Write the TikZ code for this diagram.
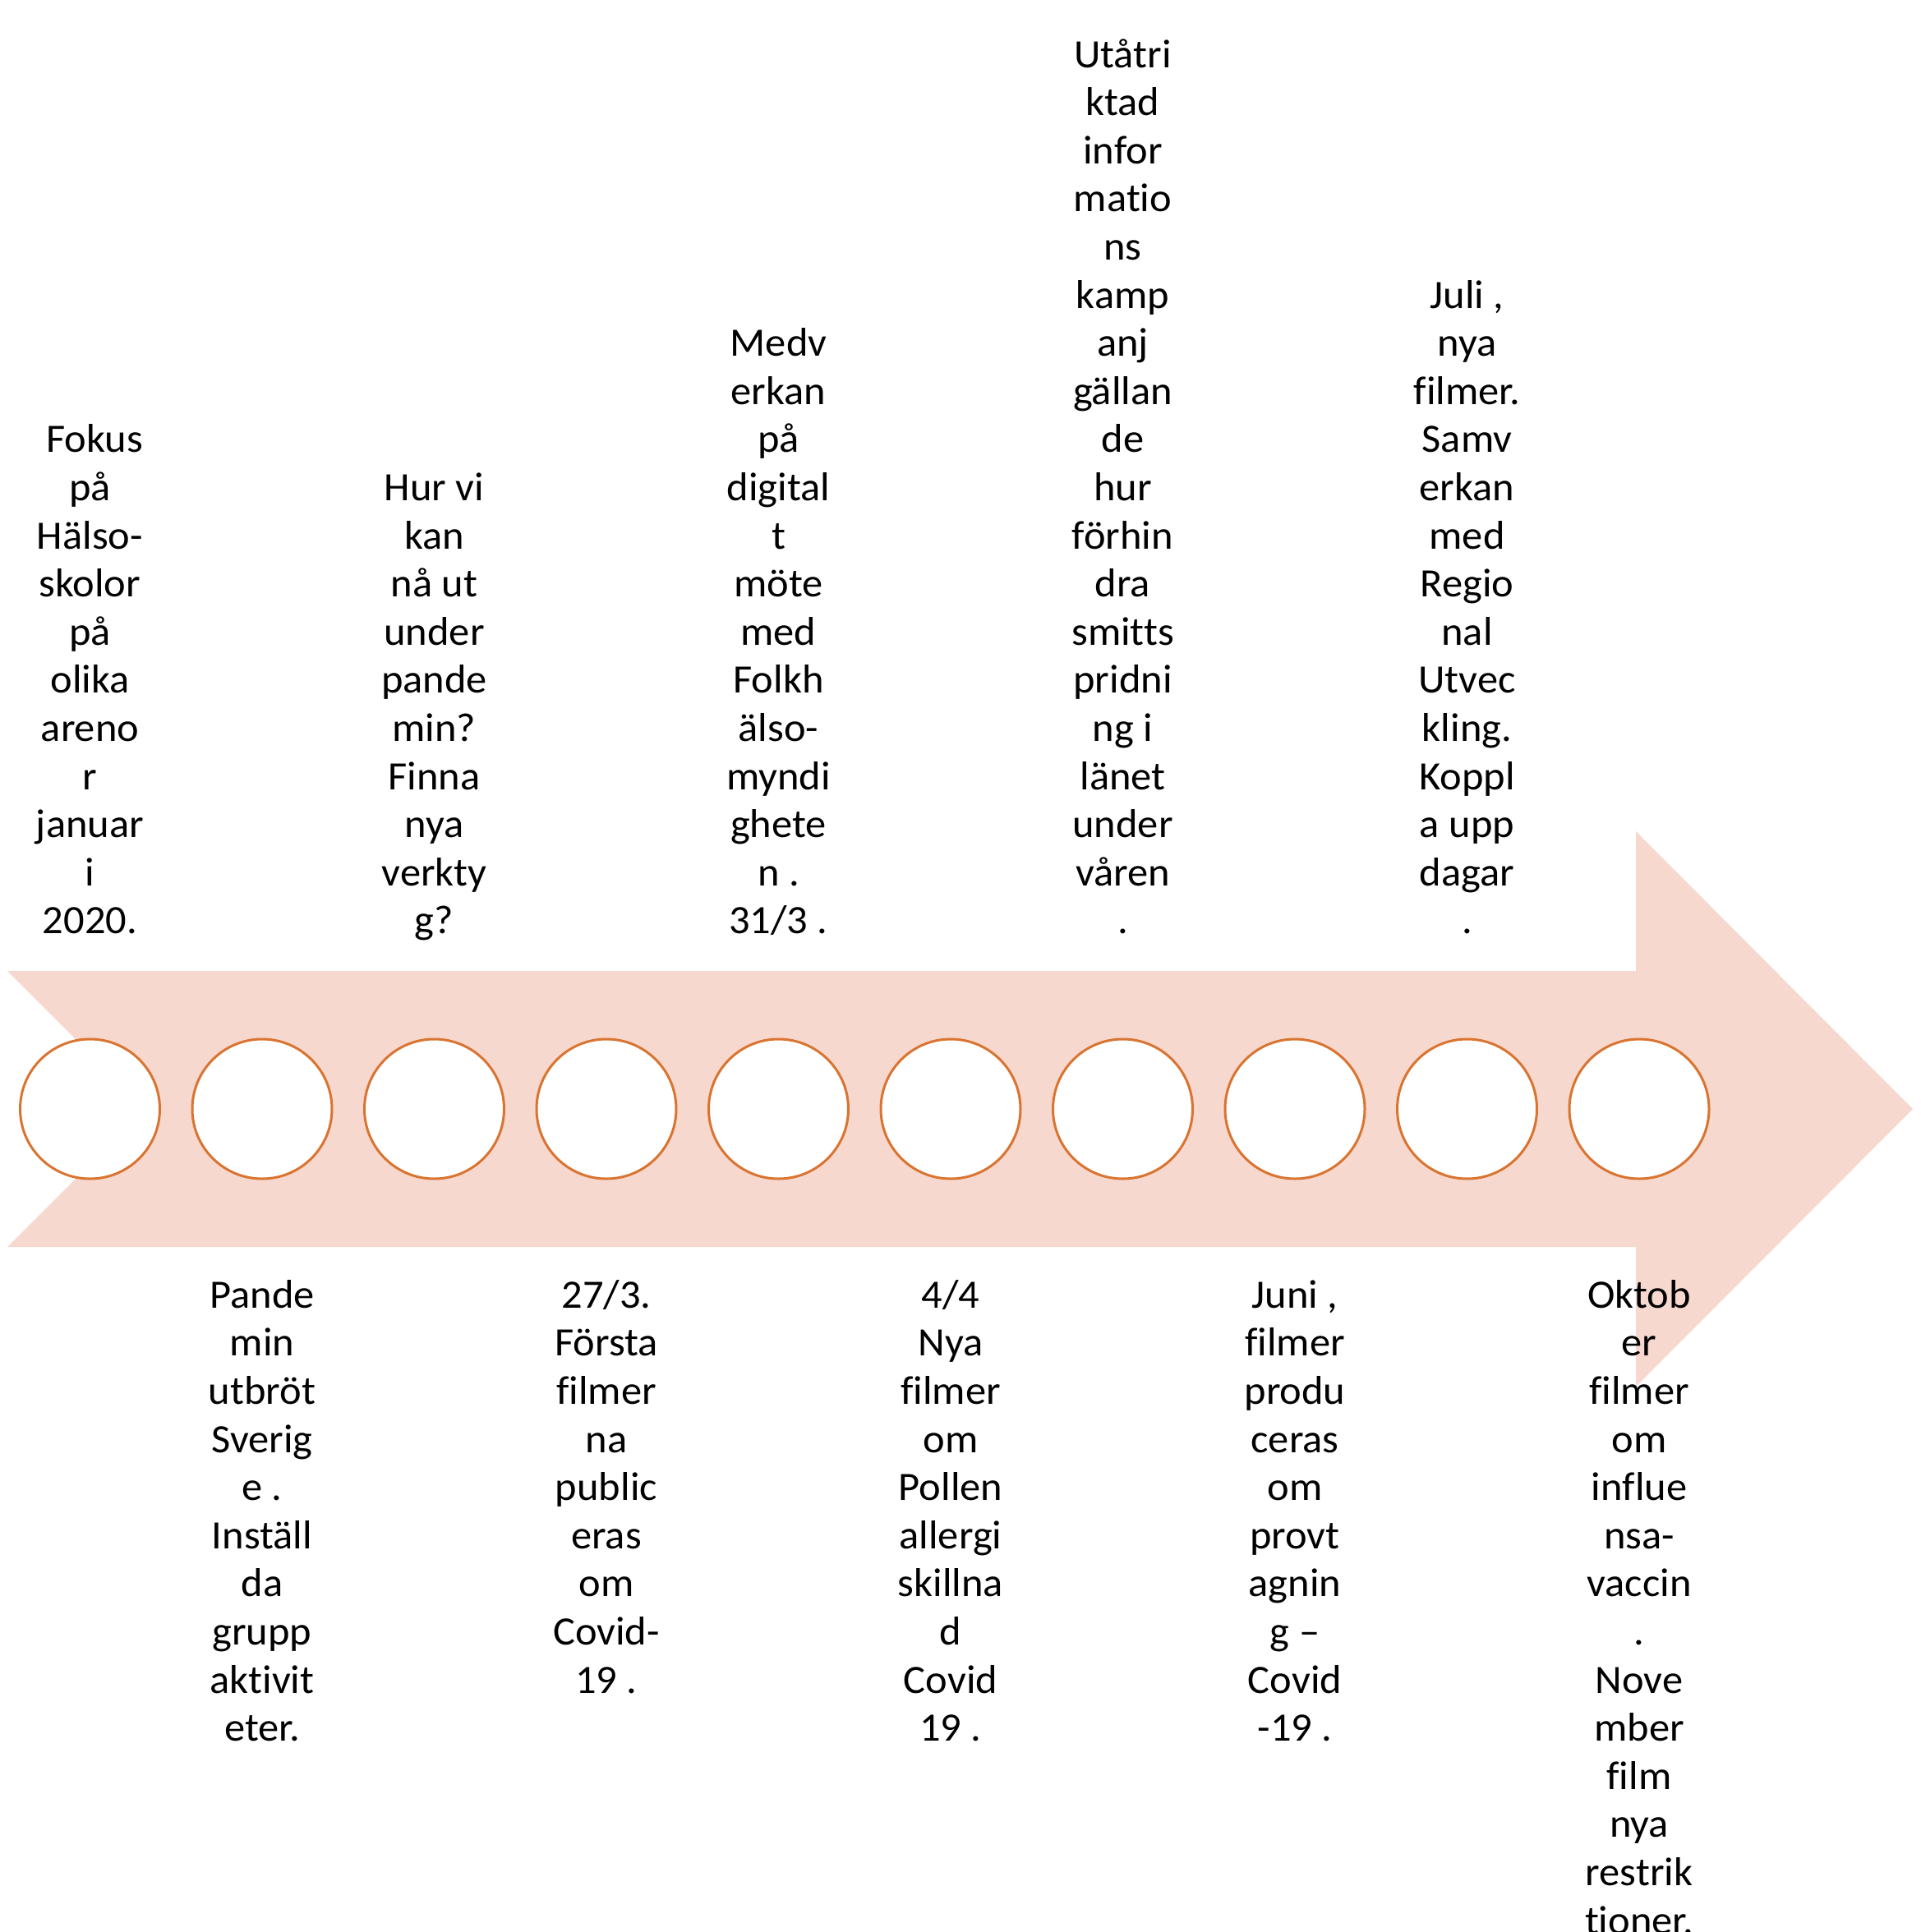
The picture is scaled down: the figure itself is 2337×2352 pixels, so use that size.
\documentclass[tikz,border=0pt]{standalone}
\usepackage{fontspec}
\setmainfont{Carlito}[Ligatures=NoCommon,FakeStretch=1.03]
\definecolor{arrowfill}{HTML}{F7D8CE}
\definecolor{ringline}{HTML}{D97431}
\begin{document}
\begin{tikzpicture}[x=1pt,y=-1pt,
  ring/.style={circle,draw=ringline,line width=3pt,fill=white,minimum size=170pt,inner sep=0pt},
  toptext/.style={anchor=south,align=center,inner sep=0pt,font=\fontsize{49}{58.6}\selectfont},
  bottext/.style={anchor=north,align=center,inner sep=0pt,font=\fontsize{49}{58.6}\selectfont}]
\useasboundingbox (0,0) rectangle (2337,2352);
\clip (0,0) rectangle (2337,2352);
% arrow
\fill[arrowfill] (9,1182) -- (1991,1182) -- (1991,1012) -- (2328,1350) -- (1991,1688)
  -- (1991,1518) -- (9,1518) -- (177,1350) -- cycle;
% circles
\foreach \i in {1,...,10}{
  \node[ring] (c\i) at ({109.5+209.5*(\i-1)},1350) {};
}
% top texts
\node[toptext] (t1) at (109.5,1154.6) {\hspace*{0.23em}Fokus\\på\\Hälso-\\skolor\\på\\olika\\areno\\r\\januar\\i\\2020.\strut};
\node[toptext] (t3) at (528.5,1154.6) {Hur vi\\kan\\nå ut\\under\\pande\\min?\\Finna\\nya\\verkty\\g?\strut};
\node[toptext] (t5) at (947.5,1154.6) {Medv\\erkan\\på\\digital\\t\\möte\\med\\Folkh\\älso-\\myndi\\ghete\\n .\\31/3 .\strut};
\node[toptext] (t7) at (1366.5,1154.6) {Utåtri\\ktad\\infor\\matio\\ns\\kamp\\anj\\gällan\\de\\hur\\förhin\\dra\\smitts\\pridni\\ng i\\länet\\under\\våren\\.\strut};
\node[toptext] (t9) at (1785.5,1154.6) {Juli ,\\nya\\filmer.\\Samv\\erkan\\med\\Regio\\nal\\Utvec\\kling.\\Koppl\\a upp\\dagar\\.\strut};
% bottom texts
\node[bottext] (t2) at (319,1551) {\strut Pande\\min\\utbröt\\Sverig\\e .\\Inställ\\da\\grupp\\aktivit\\eter.};
\node[bottext] (t4) at (738,1551) {\strut 27/3.\\Första\\filmer\\na\\public\\eras\\om\\Covid-\\19 .};
\node[bottext] (t6) at (1157,1551) {\strut 4/4\\Nya\\filmer\\om\\Pollen\\allergi\\skillna\\d\\Covid\\19 .};
\node[bottext] (t8) at (1576,1551) {\strut Juni ,\\filmer\\produ\\ceras\\om\\provt\\agnin\\g –\\Covid\\-19 .};
\node[bottext] (t10) at (1995,1551) {\strut Oktob\\er\\filmer\\om\\influe\\nsa-\\vaccin\\.\\Nove\\mber\\film\\nya\\restrik\\tioner.};
\end{tikzpicture}
\end{document}
